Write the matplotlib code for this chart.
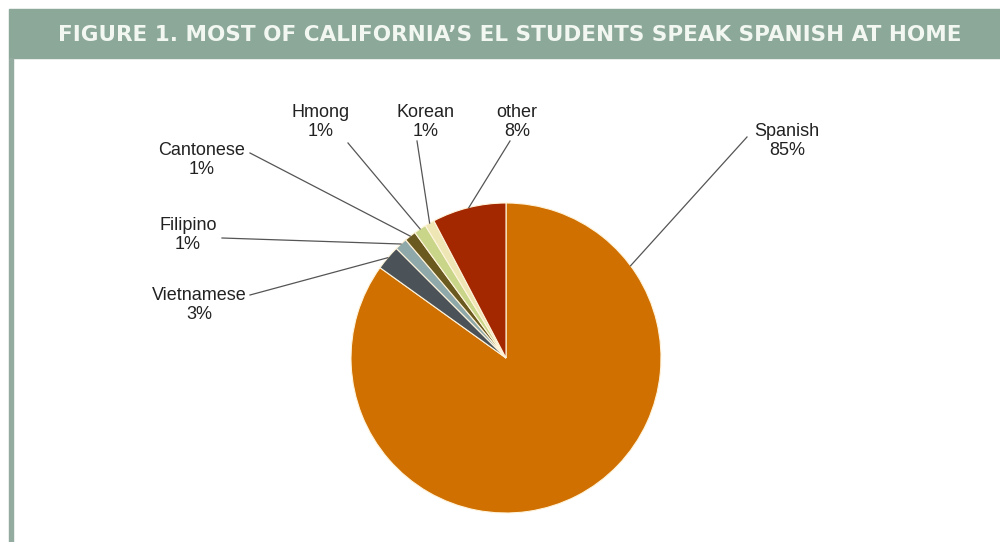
import numpy as np
import matplotlib
matplotlib.use("Agg")
import matplotlib.pyplot as plt

W, H = 1000, 542

# Share of English learner students by language spoken at home (%)
languages = ["Spanish", "Vietnamese", "Filipino", "Cantonese", "Hmong", "Korean", "other"]
shares = [84.9, 2.6, 1.3, 1.2, 1.3, 1.0, 7.7]
colors = ["#D07000", "#4B5358", "#8FA9AA", "#6B5A1F", "#C9D68A", "#EEE7B5", "#A32800"]

# label layout in pixel coords (text centre, leader line start)
label_text = {
    "Spanish": (787, 141), "Vietnamese": (199, 305), "Filipino": (188, 235),
    "Cantonese": (202, 160), "Hmong": (321, 122), "Korean": (426, 122),
    "other": (517, 122),
}
line_start = {
    "Spanish": (747, 137), "Vietnamese": (250, 295), "Filipino": (222, 238),
    "Cantonese": (250, 153), "Hmong": (348, 143), "Korean": (417, 141),
    "other": (510, 141),
}

CX, CY, R = 506, 358, 155

fig = plt.figure(figsize=(W / 100, H / 100), dpi=100)
ax = fig.add_axes([0, 0, 1, 1])
ax.set_xlim(0, W)
ax.set_ylim(0, H)
ax.axis("off")

# header band and left border
band = "#8BA899"
ax.add_patch(plt.Rectangle((9, H - 58), W - 9, 49, color=band, zorder=1))
ax.add_patch(plt.Rectangle((9, 0), 4, H - 58, color="#93AC9F", zorder=1))
ax.text(510, H - 35, "FIGURE 1. MOST OF CALIFORNIA\u2019S EL STUDENTS SPEAK SPANISH AT HOME",
        ha="center", va="center", fontsize=15.5, fontweight="bold",
        color="#F2F7F2", family="DejaVu Sans", zorder=2)

cy = H - CY
wedges, _ = ax.pie(shares, colors=colors, startangle=90, counterclock=False,
                   center=(CX, cy), radius=R, frame=True,
                   wedgeprops=dict(edgecolor="#FFF4DC", linewidth=0.8))
ax.set_xlim(0, W)
ax.set_ylim(0, H)
ax.set_aspect("auto")

for name, share, w in zip(languages, shares, wedges):
    tx, ty = label_text[name]
    lx, ly = line_start[name]
    span = (w.theta2 - w.theta1) % 360
    if span < 40:
        ang = np.deg2rad((w.theta1 + w.theta2) / 2)
    else:
        ang = np.arctan2((H - ly) - cy, lx - CX) - np.deg2rad(6)
    ex = CX + R * np.cos(ang)
    ey = cy + R * np.sin(ang)
    ax.plot([lx, ex], [H - ly, ey], color="#555555", lw=0.9, zorder=3)
    ax.text(tx, H - ty, f"{name}\n{round(share):.0f}%", ha="center", va="center",
            fontsize=13, family="Liberation Sans", color="#222222",
            linespacing=1.2, zorder=4)

fig.savefig("out.png", dpi=100)
